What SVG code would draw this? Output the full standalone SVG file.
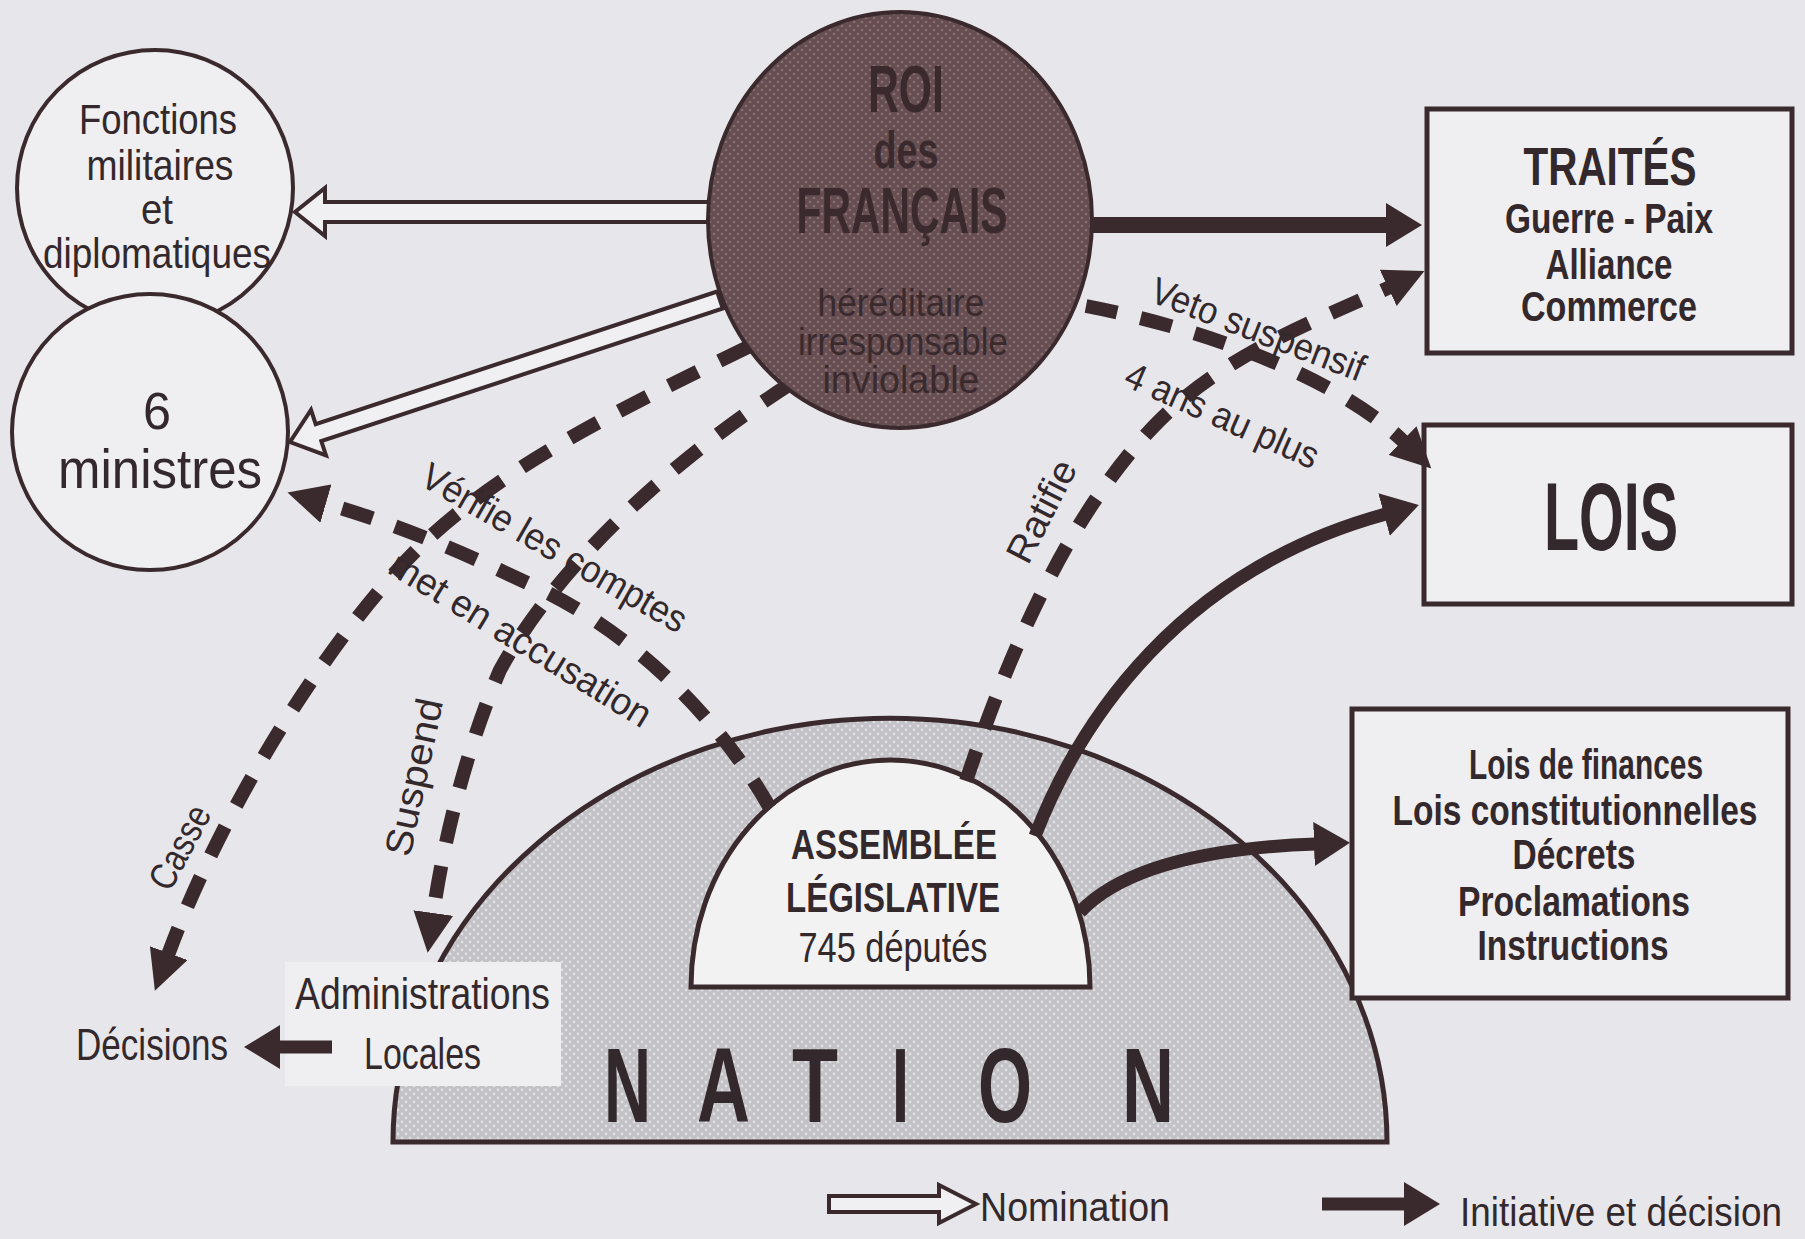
<svg xmlns="http://www.w3.org/2000/svg" width="1805" height="1239" viewBox="0 0 1805 1239">
<defs>
<style>
.t{font-family:'Liberation Sans Narrow','Liberation Sans','DejaVu Sans Condensed',sans-serif;fill:#33282b}
.b{font-weight:bold}
.m{text-anchor:middle}
.rt{fill:#3a2a2d}
.dash{fill:none;stroke:#3b2a2d;stroke-width:14;stroke-dasharray:32 24;marker-end:url(#ah)}
.solid{fill:none;stroke:#3b2a2d;stroke-width:13;marker-end:url(#ahs)}
.hollow{fill:#f0eff2;stroke:#3b2a2d;stroke-width:4;stroke-linejoin:miter}
.box{fill:#efeef1;stroke:#3b2a2d;stroke-width:5}
.circ{fill:#efeef1;stroke:#3b2a2d;stroke-width:4}
</style>
<marker id="ah" viewBox="0 0 40 40" refX="2" refY="20" markerWidth="40" markerHeight="40" orient="auto" markerUnits="userSpaceOnUse"><path d="M0,0 L40,20 L0,40 Z" fill="#3b2a2d"/></marker>
<marker id="ahs" viewBox="0 0 36 44" refX="2" refY="22" markerWidth="36" markerHeight="44" orient="auto" markerUnits="userSpaceOnUse"><path d="M0,0 L36,22 L0,44 Z" fill="#3b2a2d"/></marker>
<pattern id="pg" width="8" height="8" patternUnits="userSpaceOnUse"><rect width="8" height="8" fill="#c2c2c7"/><circle cx="2" cy="2" r="1.4" fill="#e0e0e4"/><circle cx="6" cy="6" r="1.4" fill="#e0e0e4"/></pattern>
<pattern id="pr" width="8" height="8" patternUnits="userSpaceOnUse"><rect width="8" height="8" fill="#674e52"/><circle cx="2" cy="2" r="1.3" fill="#86706f"/><circle cx="6" cy="6" r="1.3" fill="#86706f"/></pattern>
</defs>
<rect width="1805" height="1239" fill="#e7e6ea"/>

<g id="node-nation">
<path d="M393,1142 A497,424 0 0 1 1387,1142 Z" fill="url(#pg)" stroke="#3b2a2d" stroke-width="5"/>
<g class="t b" font-size="106">
<text x="604" y="1122" textLength="47" lengthAdjust="spacingAndGlyphs">N</text>
<text x="697" y="1122" textLength="53" lengthAdjust="spacingAndGlyphs">A</text>
<text x="792" y="1122" textLength="46" lengthAdjust="spacingAndGlyphs">T</text>
<text x="892" y="1122" textLength="17" lengthAdjust="spacingAndGlyphs">I</text>
<text x="978" y="1122" textLength="54" lengthAdjust="spacingAndGlyphs">O</text>
<text x="1122" y="1122" textLength="52" lengthAdjust="spacingAndGlyphs">N</text>
</g>
</g>

<g id="node-administrations">
<rect x="285" y="962" width="276" height="124" fill="#efeef1"/>
<text class="t" x="295" y="1009" font-size="44" textLength="255" lengthAdjust="spacingAndGlyphs">Administrations</text>
<text class="t" x="364" y="1069" font-size="44" textLength="117" lengthAdjust="spacingAndGlyphs">Locales</text>
</g>

<g id="node-decisions">
<text class="t" x="76" y="1060" font-size="44" textLength="152" lengthAdjust="spacingAndGlyphs">Décisions</text>
</g>

<g id="node-assemblee">
<path d="M691,987 A199.5,227 0 0 1 1090,987 Z" fill="#f3f2f3" stroke="#3b2a2d" stroke-width="5"/>
<text class="t b m" x="894" y="859" font-size="42" textLength="206" lengthAdjust="spacingAndGlyphs">ASSEMBLÉE</text>
<text class="t b m" x="893" y="912" font-size="42" textLength="214" lengthAdjust="spacingAndGlyphs">LÉGISLATIVE</text>
<text class="t m" x="893" y="962" font-size="42" textLength="189" lengthAdjust="spacingAndGlyphs">745 députés</text>
</g>

<g id="node-fonctions">
<circle class="circ" cx="155" cy="188" r="138"/>
<g class="t m" font-size="42">
<text x="158" y="134" textLength="158" lengthAdjust="spacingAndGlyphs">Fonctions</text>
<text x="160" y="180" textLength="147" lengthAdjust="spacingAndGlyphs">militaires</text>
<text x="157" y="224" textLength="32" lengthAdjust="spacingAndGlyphs">et</text>
<text x="157" y="268" textLength="228" lengthAdjust="spacingAndGlyphs">diplomatiques</text>
</g>
</g>

<g id="node-ministres">
<circle class="circ" cx="150" cy="432" r="138"/>
<text class="t m" x="157" y="429" font-size="52" textLength="28" lengthAdjust="spacingAndGlyphs">6</text>
<text class="t m" x="160" y="488" font-size="56" textLength="204" lengthAdjust="spacingAndGlyphs">ministres</text>
</g>

<g id="node-traites">
<rect class="box" x="1427" y="109" width="365" height="244"/>
<text class="t b m" x="1610" y="185" font-size="54" textLength="173" lengthAdjust="spacingAndGlyphs">TRAITÉS</text>
<text class="t b m" x="1609" y="233" font-size="42" textLength="208" lengthAdjust="spacingAndGlyphs">Guerre - Paix</text>
<text class="t b m" x="1609" y="279" font-size="42" textLength="127" lengthAdjust="spacingAndGlyphs">Alliance</text>
<text class="t b m" x="1609" y="321" font-size="42" textLength="176" lengthAdjust="spacingAndGlyphs">Commerce</text>
</g>

<g id="node-lois">
<rect class="box" x="1424" y="425" width="368" height="179"/>
<text class="t b m" x="1611" y="550" font-size="96" textLength="134" lengthAdjust="spacingAndGlyphs">LOIS</text>
</g>

<g id="node-lois-finances">
<rect class="box" x="1352" y="709" width="436" height="289"/>
<g class="t b m" font-size="42">
<text x="1586" y="779" textLength="234" lengthAdjust="spacingAndGlyphs">Lois de finances</text>
<text transform="translate(1575,825) scale(1,1.25)" x="0" y="0" font-size="33.5" textLength="365" lengthAdjust="spacingAndGlyphs">Lois constitutionnelles</text>
<text x="1574" y="869" textLength="123" lengthAdjust="spacingAndGlyphs">Décrets</text>
<text x="1574" y="916" textLength="232" lengthAdjust="spacingAndGlyphs">Proclamations</text>
<text x="1573" y="960" textLength="191" lengthAdjust="spacingAndGlyphs">Instructions</text>
</g>
</g>

<g id="connectors">
<polygon class="hollow" points="715,202 325,202 325,188 295,212 325,236 325,222 715,222"/>
<polygon class="hollow" points="717.2,291.5 315.7,424.1 311,409.8 290,442 326,455.4 321.3,441.1 722.8,308.5"/>
<path class="solid" style="stroke-width:16" d="M1085,225 L1388,225"/>
<path class="dash" d="M748,347 C640,400 520,455 430,537 C340,620 225,800 168,955"/>
<path class="dash" d="M790,384 C680,455 560,560 500,670 C470,740 445,830 433,915"/>
<path class="dash" d="M770,808 C720,720 640,640 548,593 C470,555 400,525 324,503"/>
<path class="dash" d="M966,781 C1000,680 1060,520 1160,420 C1230,350 1330,315 1390,287"/>
<path class="dash" d="M1086,306 C1200,328 1335,375 1404,442"/>
<path class="solid" d="M1035,836 C1080,720 1180,570 1386,514"/>
<path class="solid" d="M1080,912 C1120,870 1200,848 1316,844"/>
<path class="solid" d="M332,1047 L278,1047"/>
<g class="t" font-size="38">
<text transform="translate(418,484) rotate(30)" textLength="300" lengthAdjust="spacingAndGlyphs">Vérifie les comptes</text>
<text transform="translate(386,572) rotate(31.5)" textLength="300" lengthAdjust="spacingAndGlyphs">met en accusation</text>
<text transform="translate(1148,301) rotate(21)" textLength="226" lengthAdjust="spacingAndGlyphs">Veto suspensif</text>
<text transform="translate(1122,385) rotate(24)" textLength="208" lengthAdjust="spacingAndGlyphs">4 ans au plus</text>
<text transform="translate(1028,566) rotate(-63)" textLength="110" lengthAdjust="spacingAndGlyphs">Ratifie</text>
<text transform="translate(410,858) rotate(-78)" textLength="160" lengthAdjust="spacingAndGlyphs">Suspend</text>
<text transform="translate(170,893) rotate(-62)" textLength="90" lengthAdjust="spacingAndGlyphs">Casse</text>
</g>
</g>

<g id="node-roi">
<ellipse cx="900" cy="220" rx="192" ry="208" fill="url(#pr)" stroke="#3b2a2d" stroke-width="4"/>
<text class="t b m rt" x="906" y="112" font-size="66" textLength="76" lengthAdjust="spacingAndGlyphs">ROI</text>
<text class="t b m rt" x="906" y="168" font-size="52" textLength="65" lengthAdjust="spacingAndGlyphs">des</text>
<text class="t b m rt" x="902" y="233" font-size="64" textLength="211" lengthAdjust="spacingAndGlyphs">FRANÇAIS</text>
<text class="t m rt" x="901" y="316" font-size="38" textLength="167" lengthAdjust="spacingAndGlyphs">héréditaire</text>
<text class="t m rt" x="903" y="355" font-size="38" textLength="210" lengthAdjust="spacingAndGlyphs">irresponsable</text>
<text class="t m rt" x="901" y="393" font-size="38" textLength="157" lengthAdjust="spacingAndGlyphs">inviolable</text>
</g>

<g id="legend">
<polygon class="hollow" points="829,1196 939,1196 939,1185 976,1204 939,1223 939,1212 829,1212"/>
<text class="t" x="980" y="1221" font-size="40" textLength="190" lengthAdjust="spacingAndGlyphs">Nomination</text>
<path class="solid" d="M1322,1204 L1406,1204"/>
<text class="t" transform="translate(1460,1226) scale(1,1.08)" x="0" y="0" font-size="37" textLength="322" lengthAdjust="spacingAndGlyphs">Initiative et décision</text>
</g>
</svg>
